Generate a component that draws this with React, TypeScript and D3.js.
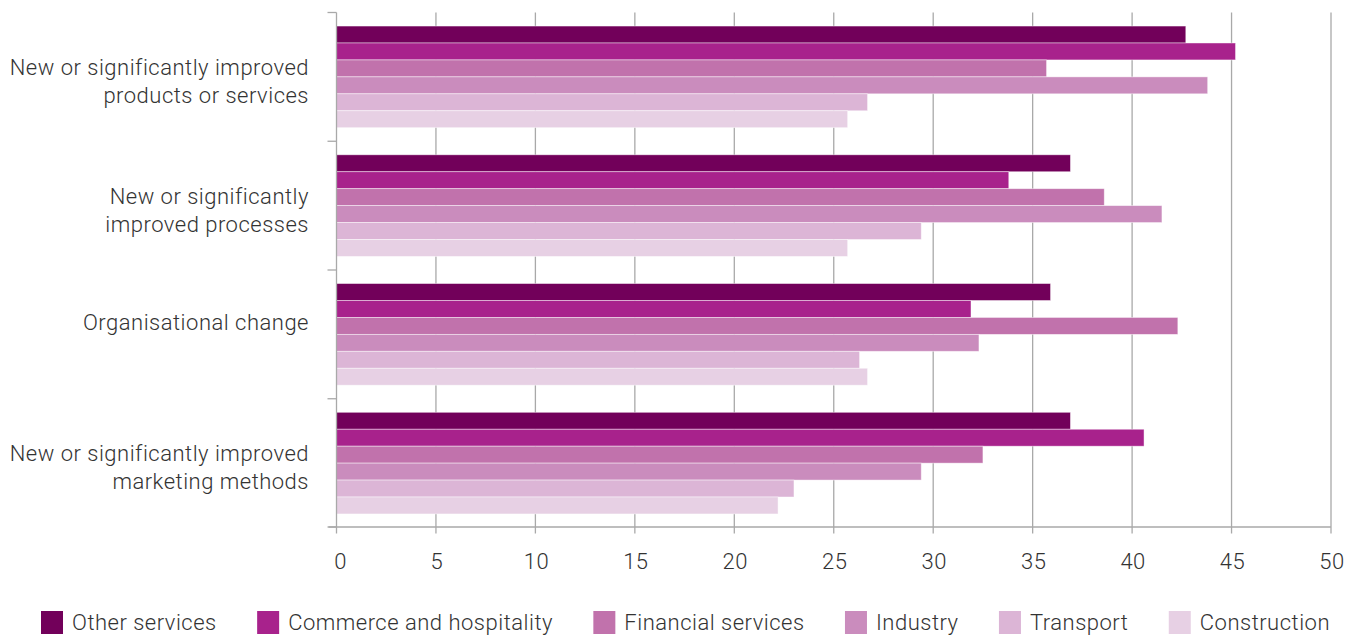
import React, { useEffect, useRef } from "react";
import * as d3 from "d3";

const categories = [
  ["New or significantly improved", "products or services"],
  ["New or significantly", "improved processes"],
  ["Organisational change"],
  ["New or significantly improved", "marketing methods"],
];

const seriesNames = [
  "Other services",
  "Commerce and hospitality",
  "Financial services",
  "Industry",
  "Transport",
  "Construction",
];

// one value per category, in category order
const otherServices = [42.7, 36.9, 35.9, 36.9];
const commerceHospitality = [45.2, 33.8, 31.9, 40.6];
const financialServices = [35.7, 38.6, 42.3, 32.5];
const industry = [43.8, 41.5, 32.3, 29.4];
const transport = [26.7, 29.4, 26.3, 23.0];
const construction = [25.7, 25.7, 26.7, 22.2];

const xTicks = [0, 5, 10, 15, 20, 25, 30, 35, 40, 45, 50];

const colors = ["#72005a", "#a8228c", "#c172ac", "#ca8cbd", "#dcb5d6", "#e7d0e4"];

const FONT = "Roboto, 'Liberation Sans', sans-serif";
const TEXT = "#333333";
const GRID = "#a9a9a9";

export default function App() {
  const ref = useRef<SVGSVGElement>(null);

  useEffect(() => {
    const svg = d3.select(ref.current);
    svg.selectAll("*").remove();

    const width = 1359;
    const height = 635;
    const left = 336.5;
    const right = 1331;
    const top = 12.5;
    const bottom = 527.5;

    const values = [otherServices, commerceHospitality, financialServices, industry, transport, construction];
    const keys = categories.map((_, i) => String(i));

    const x = d3.scaleLinear().domain([0, 50]).range([left, right]);
    const y = d3.scaleBand().domain(keys).range([top, bottom]);
    const y1 = d3
      .scaleBand()
      .domain(seriesNames)
      .range([0, y.bandwidth()])
      .paddingInner(0)
      .paddingOuter(0.8);

    svg.attr("width", width).attr("height", height);
    const g = svg
      .append("g")
      .attr("font-family", FONT)
      .attr("font-weight", 300)
      .attr("letter-spacing", 0.5);

    // vertical gridlines
    g.selectAll("line.grid")
      .data(xTicks.slice(1))
      .enter()
      .append("line")
      .attr("x1", (d) => x(d))
      .attr("x2", (d) => x(d))
      .attr("y1", top)
      .attr("y2", bottom + 6)
      .attr("stroke", GRID)
      .attr("stroke-width", 1.3);

    // bars
    keys.forEach((k, ci) => {
      const grp = g.append("g").attr("transform", `translate(0,${y(k)})`);
      seriesNames.forEach((s, si) => {
        grp
          .append("rect")
          .attr("x", x(0))
          .attr("y", y1(s)!)
          .attr("width", x(values[si][ci]) - x(0))
          .attr("height", y1.bandwidth())
          .attr("fill", colors[si])
          .attr("stroke", "rgba(255,255,255,0.55)")
          .attr("stroke-width", 0.8);
      });
    });

    // axis lines
    g.append("line")
      .attr("x1", left)
      .attr("x2", left)
      .attr("y1", top)
      .attr("y2", bottom + 6)
      .attr("stroke", GRID)
      .attr("stroke-width", 1.3);
    g.append("line")
      .attr("x1", left - 8)
      .attr("x2", right)
      .attr("y1", bottom - 0.5)
      .attr("y2", bottom - 0.5)
      .attr("stroke", GRID)
      .attr("stroke-width", 1.3);

    // left category ticks
    const bounds = keys.map((k) => y(k)!).concat([bottom - 0.5]);
    g.selectAll("line.ytick")
      .data(bounds)
      .enter()
      .append("line")
      .attr("x1", left - 9)
      .attr("x2", left)
      .attr("y1", (d) => d)
      .attr("y2", (d) => d)
      .attr("stroke", GRID)
      .attr("stroke-width", 1.3);

    // x tick labels
    g.selectAll("text.xt")
      .data(xTicks)
      .enter()
      .append("text")
      .attr("x", (d) => x(d) + (d === 0 ? 4 : 1))
      .attr("y", bottom + 41)
      .attr("text-anchor", "middle")
      .attr("font-size", 22)
      .attr("fill", TEXT)
      .text((d) => d);

    // category labels
    categories.forEach((lines, ci) => {
      const cy = y(keys[ci])! + y.bandwidth() / 2;
      const t = g
        .append("text")
        .attr("text-anchor", "end")
        .attr("font-size", 22)
        .attr("fill", TEXT);
      const base = lines.length === 1 ? cy - 4 : cy - 2;
      lines.forEach((ln, li) => {
        t.append("tspan")
          .attr("x", 309)
          .attr("y", base + li * 28)
          .text(ln);
      });
    });

    // legend, spread from 41 to 1330
    const leg = g.append("g");
    const items = seriesNames.map((s, i) => {
      const it = leg.append("g");
      it.append("rect")
        .attr("x", 0)
        .attr("y", 611)
        .attr("width", 22)
        .attr("height", 23)
        .attr("fill", colors[i]);
      const tx = it
        .append("text")
        .attr("x", 31)
        .attr("y", 630)
        .attr("font-size", 22)
        .attr("fill", TEXT)
        .text(s);
      const w = (tx.node() as SVGTextElement).getComputedTextLength();
      return { it, w: 31 + w };
    });
    const legStart = 41;
    const legEnd = 1330;
    const gap = (legEnd - legStart - d3.sum(items, (d) => d.w)) / (items.length - 1);
    let cx = legStart;
    items.forEach((d) => {
      d.it.attr("transform", `translate(${cx},0)`);
      cx += d.w + gap;
    });
  }, []);

  return (
    <div style={{ position: "absolute", left: 0, top: 0, width: 1359, height: 635, overflow: "hidden" }}>
      <svg ref={ref} style={{ display: "block" }} />
    </div>
  );
}
